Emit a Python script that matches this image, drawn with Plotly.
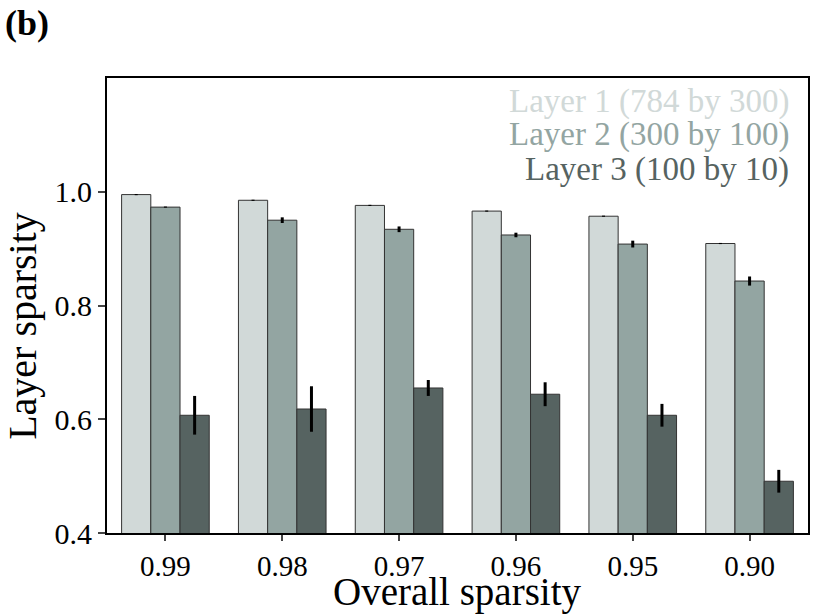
import plotly.graph_objects as go

# Data
overall = ["0.99", "0.98", "0.97", "0.96", "0.95", "0.90"]
layer_names = ["Layer 1 (784 by 300)", "Layer 2 (300 by 100)", "Layer 3 (100 by 10)"]

layer1 = [0.995, 0.985, 0.976, 0.966, 0.957, 0.909]
layer1_err = [0.001, 0.001, 0.001, 0.001, 0.001, 0.001]

layer2 = [0.973, 0.950, 0.934, 0.924, 0.908, 0.843]
layer2_err = [0.001, 0.005, 0.005, 0.004, 0.006, 0.008]

layer3 = [0.607, 0.618, 0.655, 0.644, 0.607, 0.491]
layer3_err = [0.034, 0.040, 0.014, 0.021, 0.020, 0.020]

colors = ["#d1d9d8", "#93a5a2", "#566361"]
font = "Liberation Serif"

fig = go.Figure()
for name, vals, errs, col in zip(layer_names, [layer1, layer2, layer3],
                                 [layer1_err, layer2_err, layer3_err], colors):
    fig.add_trace(go.Bar(
        x=overall, y=vals, name=name,
        marker=dict(color=col, line=dict(color="#333333", width=1)),
        error_y=dict(type="data", array=errs, color="black", thickness=3, width=0),
    ))

# legend drawn as coloured text, right aligned, top right
legend_y = [0.949, 0.875, 0.800]
for name, col, ly in zip(layer_names, colors, legend_y):
    fig.add_annotation(
        text=name, xref="paper", yref="paper", x=0.976, y=ly,
        xanchor="right", yanchor="middle", showarrow=False,
        font=dict(family=font, size=33, color=col),
    )

fig.add_annotation(
    text="<b>(b)</b>", xref="paper", yref="paper", x=-0.149, y=1.17,
    xanchor="left", yanchor="top", showarrow=False,
    font=dict(family=font, size=36, color="black"),
)

# axis titles as annotations so they sit where the reference has them
fig.add_annotation(
    text="Layer sparsity", xref="paper", yref="paper", x=-0.12, y=0.455,
    xanchor="center", yanchor="middle", textangle=-90, showarrow=False,
    font=dict(family=font, size=40, color="black"),
)
fig.add_annotation(
    text="Overall sparsity", xref="paper", yref="paper", x=0.5, y=-0.182,
    xanchor="center", yanchor="bottom", showarrow=False,
    font=dict(family=font, size=39, color="black"),
)

fig.update_layout(
    width=830, height=616,
    margin=dict(l=107, r=22, t=78, b=83, autoexpand=False),
    plot_bgcolor="white", paper_bgcolor="white",
    barmode="group", bargap=0.25, bargroupgap=0,
    showlegend=False,
    font=dict(family=font, color="black"),
)
fig.update_xaxes(
    tickfont=dict(size=29), ticks="outside", ticklen=6, tickwidth=2, automargin=False,
    showline=True, linecolor="black", linewidth=2, mirror=True,
)
fig.update_yaxes(
    range=[0.4, 1.2], tickvals=[0.4, 0.6, 0.8, 1.0], ticktext=["0.4", "0.6", "0.8", "1.0"],
    tickfont=dict(size=30), ticks="outside", ticklen=7, tickwidth=2, automargin=False,
    showline=True, linecolor="black", linewidth=2, mirror=True,
    showgrid=False, zeroline=False,
)

# page body margin would shift the figure by 8px
fig.write_html("out.html", config={"displayModeBar": False},
               post_script="document.body.style.margin='0';")
